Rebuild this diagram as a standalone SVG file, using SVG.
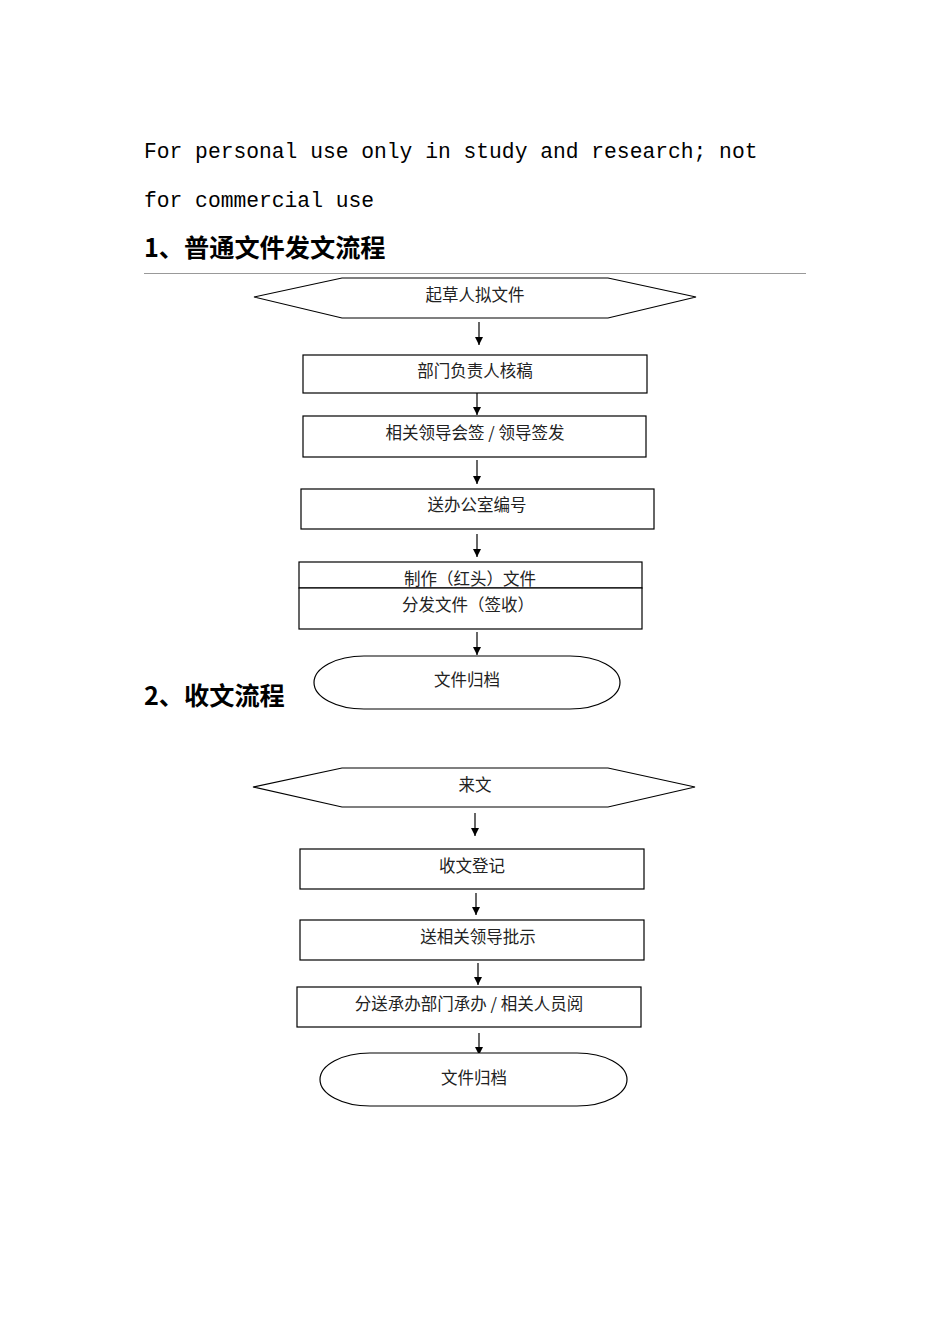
<svg xmlns="http://www.w3.org/2000/svg" width="950" height="1344" viewBox="0 0 950 1344">
<style>
.mono{font-family:"Liberation Mono","DejaVu Sans Mono",monospace;font-size:21.3px;fill:#000}
.head{font-family:"Noto Sans CJK SC","Noto Sans",sans-serif;font-size:25.2px;font-weight:bold;fill:#000}
.shape{fill:#fff;stroke:#000;stroke-width:1.2}
.lbl{font-family:"Noto Sans CJK SC","Noto Sans",sans-serif;font-size:16.5px;fill:#222;text-anchor:middle;text-spacing-trim:space-all}
.conn{stroke:#000;stroke-width:1.2;fill:none;marker-end:url(#arr)}
</style>
<defs>
<marker id="arr" viewBox="0 0 10 10" refX="10" refY="5" markerWidth="8" markerHeight="9" markerUnits="userSpaceOnUse" orient="auto">
<path d="M0,0 L10,5 L0,10 z" fill="#000"/>
</marker>
</defs>
<rect width="950" height="1344" fill="#fff"/>
<text class="mono" x="144" y="158">For personal use only in study and research; not</text>
<text class="mono" x="144" y="207">for commercial use</text>
<text class="head" x="144" y="257">1、普通文件发文流程</text>
<line x1="144" y1="273.5" x2="806" y2="273.5" stroke="#999" stroke-width="1"/>
<text class="head" x="144" y="705">2、收文流程</text>

<g id="connectors">
<line class="conn" x1="479" y1="322" x2="479" y2="345"/>
<line class="conn" x1="477" y1="393" x2="477" y2="415"/>
<line class="conn" x1="477" y1="460" x2="477" y2="484"/>
<line class="conn" x1="477" y1="534" x2="477" y2="557"/>
<line class="conn" x1="477" y1="632" x2="477" y2="655"/>
<line class="conn" x1="475" y1="813" x2="475" y2="836"/>
<line class="conn" x1="476" y1="893" x2="476" y2="915"/>
<line class="conn" x1="478" y1="963" x2="478" y2="985"/>
<line class="conn" x1="479" y1="1033" x2="479" y2="1055"/>
</g>

<g id="n1">
<polygon class="shape" points="254,297 342,278 608,278 696,297 608,318 342,318"/>
<text class="lbl" x="475" y="301">起草人拟文件</text>
</g>
<g id="n2">
<rect class="shape" x="303" y="355" width="344" height="38"/>
<text class="lbl" x="475" y="377">部门负责人核稿</text>
</g>
<g id="n3">
<rect class="shape" x="303" y="416" width="343" height="41"/>
<text class="lbl" x="475" y="439">相关领导会签 / 领导签发</text>
</g>
<g id="n4">
<rect class="shape" x="301" y="489" width="353" height="40"/>
<text class="lbl" x="477" y="511">送办公室编号</text>
</g>
<g id="n5">
<rect class="shape" x="299" y="562" width="343" height="26"/>
<text class="lbl" x="470" y="585">制作（红头）文件</text>
</g>
<g id="n6">
<rect class="shape" x="299" y="588" width="343" height="41"/>
<text class="lbl" x="468" y="611">分发文件（签收）</text>
</g>
<g id="n7">
<rect class="shape" x="314" y="656" width="306" height="53" rx="50" ry="26.5"/>
<text class="lbl" x="467" y="686">文件归档</text>
</g>

<g id="m1">
<polygon class="shape" points="253,787 342,768 608,768 695,787 608,807 342,807"/>
<text class="lbl" x="475" y="791">来文</text>
</g>
<g id="m2">
<rect class="shape" x="300" y="849" width="344" height="40"/>
<text class="lbl" x="472" y="872">收文登记</text>
</g>
<g id="m3">
<rect class="shape" x="300" y="920" width="344" height="40"/>
<text class="lbl" x="478" y="943">送相关领导批示</text>
</g>
<g id="m4">
<rect class="shape" x="297" y="987" width="344" height="40"/>
<text class="lbl" x="469" y="1010">分送承办部门承办 / 相关人员阅</text>
</g>
<g id="m5">
<rect class="shape" x="320" y="1053" width="307" height="53" rx="50" ry="26.5"/>
<text class="lbl" x="474" y="1084">文件归档</text>
</g>
</svg>
